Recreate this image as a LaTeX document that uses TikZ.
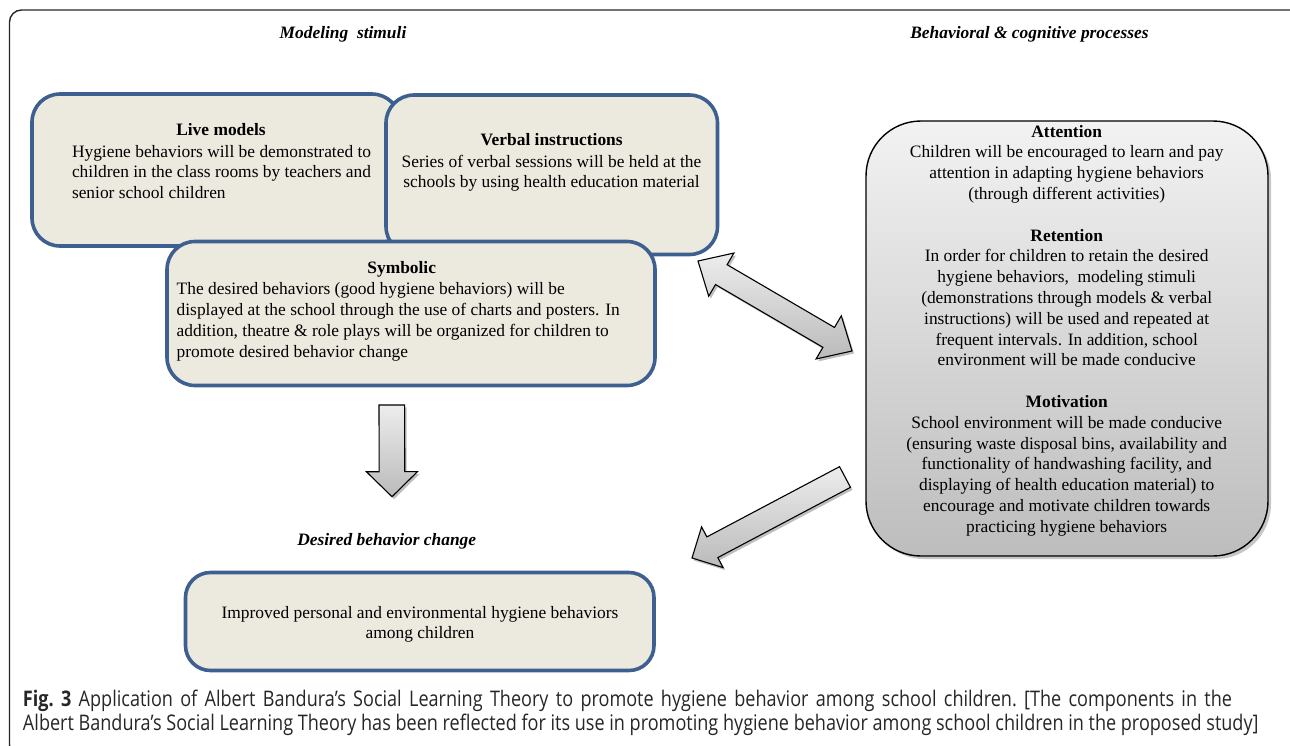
\documentclass[tikz,border=0pt]{standalone}
\usepackage{fontspec}
\setmainfont{Liberation Serif}
\newfontfamily\capfont[FakeStretch=0.84]{Open Sans}
\usetikzlibrary{calc,shadows}
\definecolor{boxblue}{RGB}{62,96,145}
\definecolor{boxfill}{RGB}{236,233,223}
\begin{document}
\begin{tikzpicture}[x=1pt,y=-1pt,
  every node/.style={inner sep=0pt, outer sep=0pt, font=\fontsize{17.4}{20.8}\selectfont},
  mbox/.style={rectangle, draw=boxblue, fill=boxfill, line width=3.6pt, rounded corners=28pt},
  pbox/.style={rectangle, draw=black, line width=1.4pt, rounded corners=55pt, top color=black!5, bottom color=black!26,
    drop shadow={shadow xshift=3pt, shadow yshift=-3pt, fill=black, opacity=0.22}},
  barrow/.style={draw=black, line width=1.1pt, line join=miter, top color=black!7, bottom color=black!27,
    drop shadow={shadow xshift=2pt, shadow yshift=-2.5pt, fill=black, opacity=0.25}},
  headtxt/.style={anchor=base, font=\fontsize{17.4}{20.8}\selectfont\bfseries\itshape}]
\useasboundingbox (0,0) rectangle (1290,745);
\clip (0,0) rectangle (1290,745);
% outer frame
\draw[line width=1.4pt, rounded corners=12pt, draw=black!85] (9.5,10) rectangle (1302,757);

% section headings
\node[headtxt] (hMod) at (343,38.5) {Modeling\ \ stimuli};
\node[headtxt] (hBeh) at (1029.5,38.5) {Behavioral \& cognitive processes};
\node[headtxt] (hDes) at (386.7,545.5) {Desired behavior change};

% modeling stimuli boxes
\node[mbox, minimum width=368pt, minimum height=152pt] (live) at (216,170) {};
\node[anchor=base] (liveH) at (221,135.5) {\bfseries Live models};
\node[anchor=north west, align=left] (liveT) at (72,142.6) {\strut Hygiene behaviors will be demonstrated to\\children in the class rooms by teachers and\\senior school children\strut};

\node[mbox, minimum width=331.5pt, minimum height=159.5pt] (verb) at (551.75,174.75) {};
\node[anchor=base] (verbH) at (551.7,145.5) {\bfseries Verbal instructions};
\node[anchor=north, align=center] (verbT) at (551.5,152.6) {\strut Series of verbal sessions will be held at the\\schools by using health education material\strut};

\node[mbox, minimum width=488pt, minimum height=144pt] (sym) at (411,313.5) {};
\node[anchor=base] (symH) at (401.7,273.5) {\bfseries Symbolic};
\node[anchor=north west, align=left] (symT) at (176.7,280.3) {\strut The desired behaviors (good hygiene behaviors) will be\\displayed at the school through the use of charts and posters. In\\addition, theatre \& role plays will be organized for children to\\promote desired behavior change\strut};

% outcome box
\node[mbox, rounded corners=25pt, minimum width=468.5pt, minimum height=98pt] (imp) at (419.75,621.5) {};
\node[anchor=north, align=center] (impT) at (420,603.6) {\strut Improved personal and environmental hygiene behaviors\\among children\strut};

% processes box
\node[pbox, minimum width=402pt, minimum height=435pt] (proc) at (1067,338.5) {};
\node[anchor=north, align=center] (procT) at (1066.7,122.6) {\strut\textbf{Attention}\\Children will be encouraged to learn and pay\\attention in adapting hygiene behaviors\\(through different activities)\\[20.8pt]\textbf{Retention}\\In order for children to retain the desired\\hygiene behaviors,\ \ modeling stimuli\\(demonstrations through models \& verbal\\instructions) will be used and repeated at\\frequent intervals. In addition, school\\environment will be made conducive\\[20.8pt]\textbf{Motivation}\\School environment will be made conducive\\(ensuring waste disposal bins, availability and\\functionality of handwashing facility, and\\displaying of health education material) to\\encourage and motivate children towards\\practicing hygiene behaviors\strut};

% block arrows
\coordinate (dA) at (698,261);
\coordinate (dB) at (852,351);
\coordinate (sT) at (692,558);
\coordinate (sE) at (845,477);
\coordinate (vT) at (392,496.7);
\coordinate (vE) at (391.8,405);

\path[barrow] (dA) -- ($(dA)!27pt!(dB)!25pt!90:(dB)$) -- ($(dA)!27pt!(dB)!11.5pt!90:(dB)$)
  -- ($(dB)!27pt!(dA)!11.5pt!-90:(dA)$) -- ($(dB)!27pt!(dA)!25pt!-90:(dA)$) -- (dB)
  -- ($(dB)!27pt!(dA)!25pt!90:(dA)$) -- ($(dB)!27pt!(dA)!11.5pt!90:(dA)$)
  -- ($(dA)!27pt!(dB)!11.5pt!-90:(dB)$) -- ($(dA)!27pt!(dB)!25pt!-90:(dB)$) -- cycle;

\path[barrow] (sT) -- ($(sT)!23pt!(sE)!23pt!90:(sE)$) -- ($(sT)!23pt!(sE)!11.7pt!90:(sE)$)
  -- ($(sE)!11.7pt!-90:(sT)$) -- ($(sE)!11.7pt!90:(sT)$)
  -- ($(sT)!23pt!(sE)!11.7pt!-90:(sE)$) -- ($(sT)!23pt!(sE)!23pt!-90:(sE)$) -- cycle;

\path[barrow] (vT) -- ($(vT)!25pt!(vE)!25.5pt!90:(vE)$) -- ($(vT)!25pt!(vE)!12.8pt!90:(vE)$)
  -- ($(vE)!12.8pt!-90:(vT)$) -- ($(vE)!12.8pt!90:(vT)$)
  -- ($(vT)!25pt!(vE)!12.8pt!-90:(vE)$) -- ($(vT)!25pt!(vE)!25.5pt!-90:(vE)$) -- cycle;

% caption
\node[anchor=north west, align=left, text=black!85, font=\capfont\fontsize{21.5}{24}\selectfont\frenchspacing] (cap) at (23,689.5)
 {\strut\makebox[1209pt][s]{{\bfseries Fig. 3} Application of Albert Bandura’s Social Learning Theory to promote hygiene behavior among school children. [The components in the}\\Albert Bandura’s Social Learning Theory has been reflected for its use in promoting hygiene behavior among school children in the proposed study]\strut};
\end{tikzpicture}
\end{document}
